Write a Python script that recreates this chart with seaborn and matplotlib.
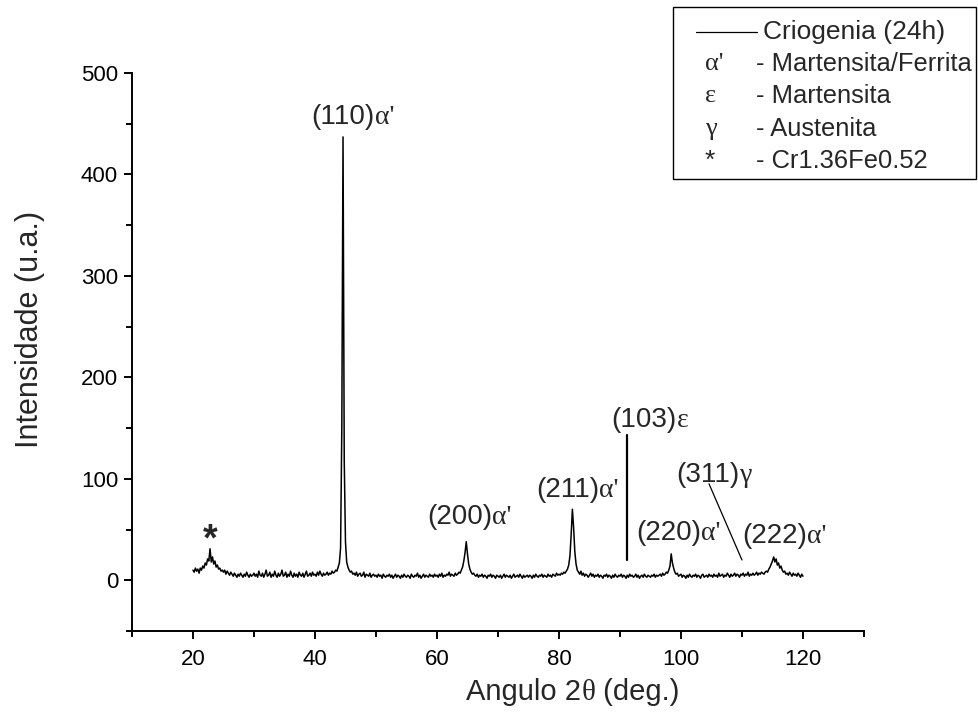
import numpy as np
import pandas as pd
import matplotlib
matplotlib.use("Agg")
import matplotlib.pyplot as plt
from matplotlib.lines import Line2D
from matplotlib.patches import Rectangle
from matplotlib.ticker import MultipleLocator
import seaborn as sns

theta_start = 20.0
theta_step = 0.2
int_20 = [10, 8, 12, 9, 11, 7, 12, 10, 14, 12, 17, 15, 21, 19, 31, 18, 23, 16, 19, 13, 15, 11, 12, 9, 10]
int_25 = [8, 10, 6, 9, 7, 5, 8, 6, 4, 7, 5, 3, 6, 4, 7, 5, 3, 6, 4, 8, 5, 3, 6, 4, 5]
int_30 = [7, 4, 6, 3, 9, 5, 4, 7, 3, 6, 10, 4, 5, 8, 3, 6, 4, 9, 5, 3, 7, 4, 6, 10, 4]
int_35 = [5, 8, 3, 6, 4, 9, 5, 3, 7, 4, 6, 3, 8, 5, 4, 7, 3, 6, 9, 4, 5, 7, 4, 8, 5]
int_40 = [6, 4, 8, 5, 9, 6, 4, 7, 5, 6, 8, 5, 7, 6, 9, 7, 8, 10, 9, 13, 17, 32, 150, 437, 118]
int_45 = [38, 18, 13, 10, 8, 9, 6, 7, 5, 8, 4, 6, 7, 4, 5, 8, 3, 6, 5, 4, 7, 3, 5, 6, 4]
int_50 = [5, 3, 6, 4, 5, 2, 6, 4, 3, 5, 4, 6, 3, 5, 2, 4, 6, 3, 5, 4, 2, 5, 3, 6, 4]
int_55 = [3, 5, 4, 2, 6, 4, 3, 5, 4, 7, 3, 5, 2, 4, 6, 3, 5, 4, 3, 6, 4, 5, 3, 6, 4]
int_60 = [5, 3, 6, 4, 7, 3, 5, 4, 6, 5, 8, 4, 6, 5, 4, 7, 5, 6, 8, 7, 10, 13, 19, 27, 38]
int_65 = [26, 16, 11, 8, 6, 7, 5, 4, 6, 3, 5, 4, 6, 3, 5, 4, 2, 5, 4, 6, 3, 5, 4, 2, 5]
int_70 = [4, 3, 5, 2, 4, 6, 3, 5, 4, 3, 5, 2, 4, 6, 3, 4, 5, 3, 6, 4, 2, 5, 3, 4, 5]
int_75 = [3, 5, 4, 2, 5, 3, 6, 4, 3, 5, 4, 6, 3, 5, 4, 3, 6, 4, 5, 3, 6, 5, 4, 7, 5]
int_80 = [6, 5, 7, 6, 8, 7, 9, 11, 15, 24, 45, 70, 52, 28, 16, 10, 8, 6, 9, 5, 7, 4, 6, 5, 3]
int_85 = [5, 7, 4, 6, 3, 5, 4, 6, 3, 5, 4, 2, 5, 4, 6, 3, 5, 4, 2, 5, 3, 6, 4, 3, 5]
int_90 = [4, 6, 3, 5, 4, 2, 5, 3, 6, 4, 5, 3, 4, 6, 3, 5, 2, 4, 5, 3, 6, 4, 3, 5, 4]
int_95 = [3, 5, 4, 6, 3, 5, 4, 5, 6, 4, 7, 5, 6, 8, 7, 10, 14, 26, 17, 12, 8, 6, 7, 4, 5]
int_100 = [6, 3, 5, 4, 2, 5, 3, 6, 4, 3, 5, 4, 6, 3, 5, 4, 2, 5, 6, 3, 4, 5, 3, 6, 4]
int_105 = [5, 3, 6, 4, 5, 3, 7, 4, 5, 6, 3, 5, 4, 7, 5, 3, 6, 4, 5, 7, 4, 6, 5, 3, 6]
int_110 = [5, 7, 4, 6, 5, 8, 4, 6, 5, 7, 5, 6, 8, 5, 7, 6, 8, 7, 6, 8, 9, 8, 11, 13, 16]
int_115 = [19, 23, 18, 21, 15, 17, 12, 14, 10, 8, 9, 6, 7, 5, 8, 6, 4, 7, 5, 6, 4, 7, 5, 3, 6]
int_120 = [4]

# picos indexados
peak_hkl = ["(110)", "(200)", "(211)", "(103)", "(220)", "(311)", "(222)"]
peak_phase = ["α'", "α'", "α'", "ε", "α'", "γ", "α'"]
label_x = [39.4, 58.4, 76.2, 88.6, 92.6, 99.3, 110.0]
label_y = [457, 62, 89, 158, 47, 104, 44]

# legenda
series_name = "Criogenia (24h)"
legend_symbols = ["α'", "ε", "γ", "*"]
legend_names = ["- Martensita/Ferrita", "- Martensita", "- Austenita", "- Cr1.36Fe0.52"]

SANS = ["Liberation Sans", "DejaVu Sans"]
SERIF = ["Liberation Serif", "DejaVu Serif"]


def chain_text(ax, x, y, parts, size, transform=None, va="center"):
    """Escreve partes seguidas, cada uma com sua familia de fonte."""
    s0, fam0 = parts[0]
    kw = {} if transform is None else {"transform": transform}
    t = ax.text(x, y, s0, fontsize=size, family=fam0, ha="left", va=va, **kw)
    for s, fam in parts[1:]:
        t = ax.annotate(s, xy=(1, 0), xycoords=t, fontsize=size, family=fam,
                        ha="left", va="bottom")
    return t


def main():
    intensity = (int_20 + int_25 + int_30 + int_35 + int_40 + int_45 + int_50 + int_55
                 + int_60 + int_65 + int_70 + int_75 + int_80 + int_85 + int_90 + int_95
                 + int_100 + int_105 + int_110 + int_115 + int_120)
    two_theta = theta_start + theta_step * np.arange(len(intensity))
    df = pd.DataFrame({"two_theta": two_theta, "intensity": intensity})

    sns.set_theme(style="ticks")
    plt.rcParams["font.family"] = SANS

    fig = plt.figure(figsize=(9.79, 7.19), dpi=100)
    ax = fig.add_axes([0.1348, 0.1224, 0.7477, 0.7761])

    sns.lineplot(data=df, x="two_theta", y="intensity", color="black", lw=1.1,
                 ax=ax, estimator=None, sort=False)

    ax.set_xlim(10, 130)
    ax.set_ylim(-50, 500)
    ax.xaxis.set_major_locator(MultipleLocator(20))
    ax.xaxis.set_minor_locator(MultipleLocator(10))
    ax.yaxis.set_major_locator(MultipleLocator(100))
    ax.yaxis.set_minor_locator(MultipleLocator(50))
    ax.set_xticks([20, 40, 60, 80, 100, 120])
    sns.despine(ax=ax)
    for s in ["left", "bottom"]:
        ax.spines[s].set_linewidth(1.4)
        ax.spines[s].set_color("black")
    ax.tick_params(which="major", direction="out", length=6, width=1.4,
                   labelsize=16, colors="black")
    ax.tick_params(axis="x", which="major", pad=7)
    ax.tick_params(axis="y", which="major", pad=4)
    ax.tick_params(which="minor", direction="out", length=4, width=1.4, colors="black")

    # rotulos dos eixos
    ax.set_xlabel("")
    chain_text(ax, 0.457, -0.124, [("Angulo 2", SANS), ("θ", SERIF), (" (deg.)", SANS)],
               21, transform=ax.transAxes, va="baseline")
    ax.set_ylabel("Intensidade (u.a.)", fontsize=22, va="center")
    ax.yaxis.set_label_coords(-0.139, 0.54)

    for hkl, ph, x, y in zip(peak_hkl, peak_phase, label_x, label_y):
        chain_text(ax, x, y, [(hkl, SANS), (ph, SERIF)], 20)

    # marcador da fase Cr1.36Fe0.52
    ax.text(22.8, 39, "*", fontsize=27, fontweight="bold", ha="center", va="center")
    # indicacoes (103) e (311)
    ax.plot([91.1, 91.1], [20, 143], color="black", lw=1.6)
    ax.plot([104.6, 110.0], [95, 20], color="black", lw=0.9)

    # caixa de legenda
    W, H = 979.0, 719.0
    fig.add_artist(Rectangle((673 / W, 1 - 179 / H), 303 / W, 172 / H,
                             transform=fig.transFigure, fill=False,
                             edgecolor="black", lw=1.0))
    fig.add_artist(Line2D([696 / W, 757 / W], [1 - 32 / H, 1 - 32 / H],
                          transform=fig.transFigure, color="black", lw=0.9))
    fig.text(763 / W, 1 - 32 / H, series_name, fontsize=19, family=SANS, va="center")
    for i, (sym, name) in enumerate(zip(legend_symbols, legend_names)):
        yy = 1 - (64 + 32.3 * i) / H
        fam = SANS if sym == "*" else SERIF
        fig.text(705 / W, yy, sym, fontsize=19, family=fam, va="center")
        fig.text(756 / W, yy, name, fontsize=18.4, family=SANS, va="center")

    fig.savefig("out.png", dpi=100)
    plt.close(fig)


if __name__ == "__main__":
    main()
